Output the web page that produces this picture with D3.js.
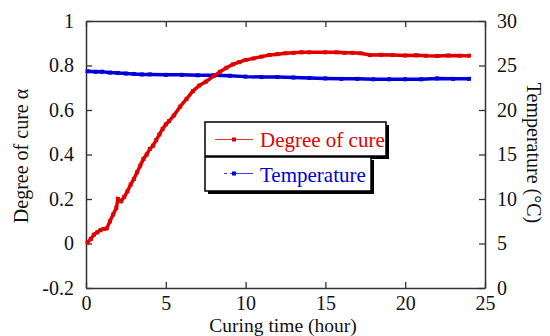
<!DOCTYPE html>
<html>
<head>
<meta charset="utf-8">
<script src="https://cdn.jsdelivr.net/npm/d3@7/dist/d3.min.js"></script>
<style>
  html, body { margin: 0; padding: 0; background: #fff; }
  svg { display: block; }
  text { font-family: "Liberation Serif", "Times New Roman", serif; }
</style>
</head>
<body>
<svg id="chart" width="550" height="336"></svg>
<script>
// Curing time (hours) and degree of cure
const cureTime = [0.1, 0.3, 0.5, 0.7, 0.9, 1.1, 1.3, 1.5, 1.7, 1.9, 2.0, 2.2, 2.4, 2.6, 2.8, 3.0,
  3.2, 3.4, 3.6, 3.8, 4.0, 4.2, 4.4, 4.6, 4.8, 5.0, 5.2, 5.5, 5.9, 6.3, 6.7, 7.1, 7.5, 8.0,
  8.4, 8.8, 9.2, 9.6, 10.0, 10.5, 11.0, 11.5, 12.0, 12.5, 13.0, 13.5, 14.0, 15.0, 15.7,
  16.2, 16.7, 17.2, 17.8, 18.5, 19.2, 20.0, 20.7, 21.3, 22.0, 22.7, 23.4, 24.0];
const cureDegree = [0.005, 0.02, 0.04, 0.05, 0.06, 0.065, 0.068, 0.10, 0.13, 0.16, 0.20, 0.19,
  0.21, 0.235, 0.265, 0.29, 0.32, 0.35, 0.38, 0.40, 0.425, 0.44, 0.465, 0.49, 0.515, 0.535,
  0.55, 0.575, 0.615, 0.65, 0.685, 0.71, 0.727, 0.752, 0.772, 0.79, 0.805, 0.815, 0.825,
  0.832, 0.840, 0.847, 0.851, 0.855, 0.857, 0.859, 0.859, 0.859, 0.859, 0.857, 0.857,
  0.855, 0.847, 0.848, 0.847, 0.845, 0.846, 0.844, 0.843, 0.845, 0.844, 0.844];

// Curing time (hours) and temperature (°C)
const tempTime = [0.1, 0.6, 1.0, 1.5, 2.0, 2.5, 3.0, 3.5, 4.0, 5.0, 6.0, 7.0, 8.0, 9.0, 10.0,
  11.0, 12.0, 13.0, 14.0, 15.0, 16.0, 17.0, 18.0, 19.0, 20.0, 21.0, 22.0, 23.0, 24.0];
const temperature = [24.35, 24.3, 24.3, 24.2, 24.15, 24.1, 24.05, 24.0, 24.0, 23.95, 23.95,
  23.9, 23.9, 23.85, 23.75, 23.7, 23.7, 23.65, 23.6, 23.55, 23.5, 23.5, 23.45, 23.45, 23.45,
  23.45, 23.55, 23.5, 23.5];

const xTicks = [0, 5, 10, 15, 20, 25];
const leftTicks = [-0.2, 0, 0.2, 0.4, 0.6, 0.8, 1];
const rightTicks = [0, 5, 10, 15, 20, 25, 30];
const seriesNames = ["Degree of cure", "Temperature"];

const RED = "#e00000", BLUE = "#0000d8", AXIS = "#333";
const SERIF = "'Liberation Serif', 'Times New Roman', serif";
const svg = d3.select("#chart");
const L = 86, R = 485, T = 21, B = 288;

const x = d3.scaleLinear().domain([0, 25]).range([L, R]);
const yL = d3.scaleLinear().domain([-0.2, 1]).range([B, T]);
const yR = d3.scaleLinear().domain([0, 30]).range([B, T]);

const fmt = d => (d === 0 ? "0" : String(d));

// Axes with inward ticks on all four sides
function styleAxis(g) {
  g.attr("font-family", null).attr("font-size", null);
  g.selectAll(".domain").attr("stroke", AXIS).attr("stroke-width", 1.5);
  g.selectAll(".tick line").attr("stroke", AXIS).attr("stroke-width", 1.3);
  g.selectAll(".tick text").attr("fill", "#111")
    .style("font-family", SERIF).style("font-size", "20px");
}

svg.append("g").attr("transform", `translate(0,${B})`)
  .call(d3.axisBottom(x).tickValues(xTicks).tickFormat(fmt).tickSizeInner(-6).tickSizeOuter(0).tickPadding(8))
  .call(styleAxis);
svg.append("g").attr("transform", `translate(0,${T})`)
  .call(d3.axisTop(x).tickValues(xTicks).tickFormat("").tickSizeInner(-6).tickSizeOuter(0))
  .call(styleAxis);
svg.append("g").attr("transform", `translate(${L},0)`)
  .call(d3.axisLeft(yL).tickValues(leftTicks).tickFormat(fmt).tickSizeInner(-6).tickSizeOuter(0).tickPadding(12))
  .call(styleAxis);
svg.append("g").attr("transform", `translate(${R},0)`)
  .call(d3.axisRight(yR).tickValues(rightTicks).tickFormat(fmt).tickSizeInner(-6).tickSizeOuter(0).tickPadding(12))
  .call(styleAxis);

// Series lines
const cureData = cureTime.map((t, i) => [t, cureDegree[i]]);
const tempData = tempTime.map((t, i) => [t, temperature[i]]);

svg.append("path").datum(tempData)
  .attr("fill", "none").attr("stroke", BLUE).attr("stroke-width", 3.5)
  .attr("d", d3.line().x(d => x(d[0])).y(d => yR(d[1])));
svg.append("g").selectAll("rect").data(tempData).join("rect")
  .attr("x", d => x(d[0]) - 2).attr("y", d => yR(d[1]) - 2)
  .attr("width", 4).attr("height", 4).attr("fill", BLUE);

svg.append("path").datum(cureData)
  .attr("fill", "none").attr("stroke", RED).attr("stroke-width", 3.5)
  .attr("d", d3.line().x(d => x(d[0])).y(d => yL(d[1])));
svg.append("g").selectAll("rect").data(cureData).join("rect")
  .attr("x", d => x(d[0]) - 2).attr("y", d => yL(d[1]) - 2)
  .attr("width", 4).attr("height", 4).attr("fill", RED);

// Axis titles
function title(sel, size) {
  return sel.attr("text-anchor", "middle").attr("fill", "#111")
    .style("font-family", SERIF).style("font-size", size + "px");
}
title(svg.append("text").attr("x", 283).attr("y", 332), 19.5).text("Curing time (hour)");
title(svg.append("text").attr("transform", "translate(28,156) rotate(-90)"), 20).text("Degree of cure α");
title(svg.append("text").attr("transform", "translate(527,153) rotate(90)"), 20).text("Temperature (°C)");

// Legend: two stacked boxes with drop shadows
const leg = svg.append("g");
function legendBox(x0, y0, w, h) {
  leg.append("rect").attr("x", x0 + 3).attr("y", y0 + 3).attr("width", w).attr("height", h).attr("fill", "#000");
  leg.append("rect").attr("x", x0).attr("y", y0).attr("width", w).attr("height", h)
    .attr("fill", "#fff").attr("stroke", "#000").attr("stroke-width", 1.5);
}
legendBox(205, 122, 181, 34);
legendBox(205, 157, 166, 34);

leg.append("line").attr("x1", 215).attr("x2", 253).attr("y1", 139.5).attr("y2", 139.5)
  .attr("stroke", "#f03030").attr("stroke-width", 1.2);
leg.append("rect").attr("x", 232).attr("y", 137.5).attr("width", 4).attr("height", 4).attr("fill", RED);
leg.append("text").attr("x", 260).attr("y", 147).attr("fill", RED)
  .style("font-family", SERIF).style("font-size", "21px").text(seriesNames[0]);

leg.append("line").attr("x1", 224).attr("x2", 253).attr("y1", 173.5).attr("y2", 173.5)
  .attr("stroke", "#4040f0").attr("stroke-width", 1.2).attr("stroke-dasharray", "3,3,30");
leg.append("rect").attr("x", 232).attr("y", 171.5).attr("width", 4).attr("height", 4).attr("fill", BLUE);
leg.append("text").attr("x", 260).attr("y", 182).attr("fill", BLUE)
  .style("font-family", SERIF).style("font-size", "21px").text(seriesNames[1]);
</script>
</body>
</html>
